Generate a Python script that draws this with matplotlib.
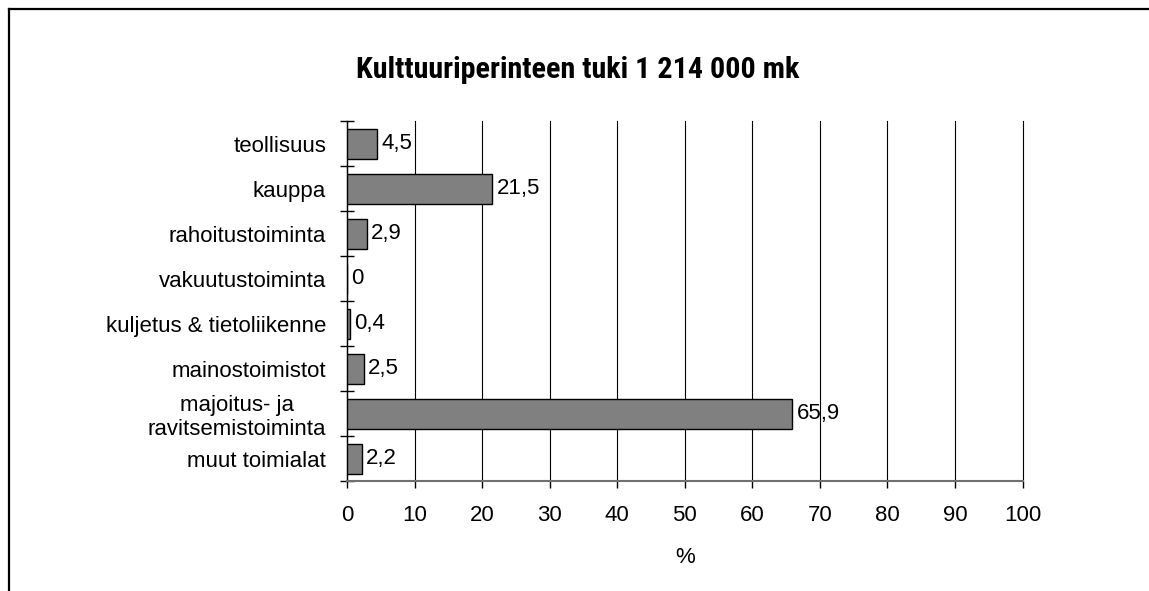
import numpy as np
import matplotlib.pyplot as plt
from matplotlib.lines import Line2D

plt.rcParams['font.family'] = ['Liberation Sans Narrow', 'Liberation Sans', 'DejaVu Sans']

categories = ['teollisuus', 'kauppa', 'rahoitustoiminta', 'vakuutustoiminta',
              'kuljetus & tietoliikenne', 'mainostoimistot',
              'majoitus- ja\nravitsemistoiminta', 'muut toimialat']
values = [4.5, 21.5, 2.9, 0, 0.4, 2.5, 65.9, 2.2]
xticks = [0, 10, 20, 30, 40, 50, 60, 70, 80, 90, 100]

fig = plt.figure(figsize=(11.49, 5.91), dpi=100)
ax = fig.add_axes([0.302, 0.186, 0.588, 0.609])

y = np.arange(len(categories))
ax.barh(y, values, height=0.667, color='#808080', edgecolor='black', linewidth=1, zorder=3)

for yi, v in zip(y, values):
    ax.annotate(('%g' % v).replace('.', ','), (v, yi), xytext=(3, 0),
                textcoords='offset points', va='center', ha='left', fontsize=16)

ax.set_xlim(0, 100)
ax.set_ylim(len(categories) - 0.5, -0.5)
ax.set_xticks(xticks)
ax.set_xticklabels([str(t) for t in xticks], fontsize=16)
ax.set_yticks(np.arange(len(categories) + 1) - 0.5, minor=False)
ax.set_yticklabels([])
ax.set_yticks(y, minor=True)
ax.set_yticklabels(categories, minor=True, fontsize=16, multialignment='center')
ax.tick_params(axis='y', which='major', direction='inout', length=10, width=1)
ax.tick_params(axis='y', which='minor', length=0, pad=15)
ax.tick_params(axis='x', direction='out', length=5, width=1, pad=12)

ax.xaxis.grid(True, color='black', linewidth=0.8, zorder=0)
ax.set_axisbelow(True)
for gl in ax.get_xgridlines():
    gl.set_clip_on(False)
for s in ['top', 'right']:
    ax.spines[s].set_visible(False)
ax.spines['left'].set_color('black')
ax.spines['left'].set_linewidth(1)
ax.spines['bottom'].set_color('#707070')
ax.spines['bottom'].set_linewidth(1.5)

ax.set_xlabel('%', fontsize=16, labelpad=15)
fig.text(0.503, 1 - 78 / 591, 'Kulttuuriperinteen tuki 1 214 000 mk', ha='center', va='baseline',
         fontsize=21.7, fontweight='bold',
         family=['Roboto Condensed', 'Liberation Sans Narrow', 'Roboto', 'DejaVu Sans'])

# outer frame (left and top edges visible)
fig.add_artist(Line2D([8.5 / 1149, 8.5 / 1149], [0, 1 - 8.5 / 591], color='black', linewidth=1.6))
fig.add_artist(Line2D([8.5 / 1149, 1], [1 - 8.5 / 591, 1 - 8.5 / 591], color='black', linewidth=1.6))

fig.savefig('out.png', dpi=100)
